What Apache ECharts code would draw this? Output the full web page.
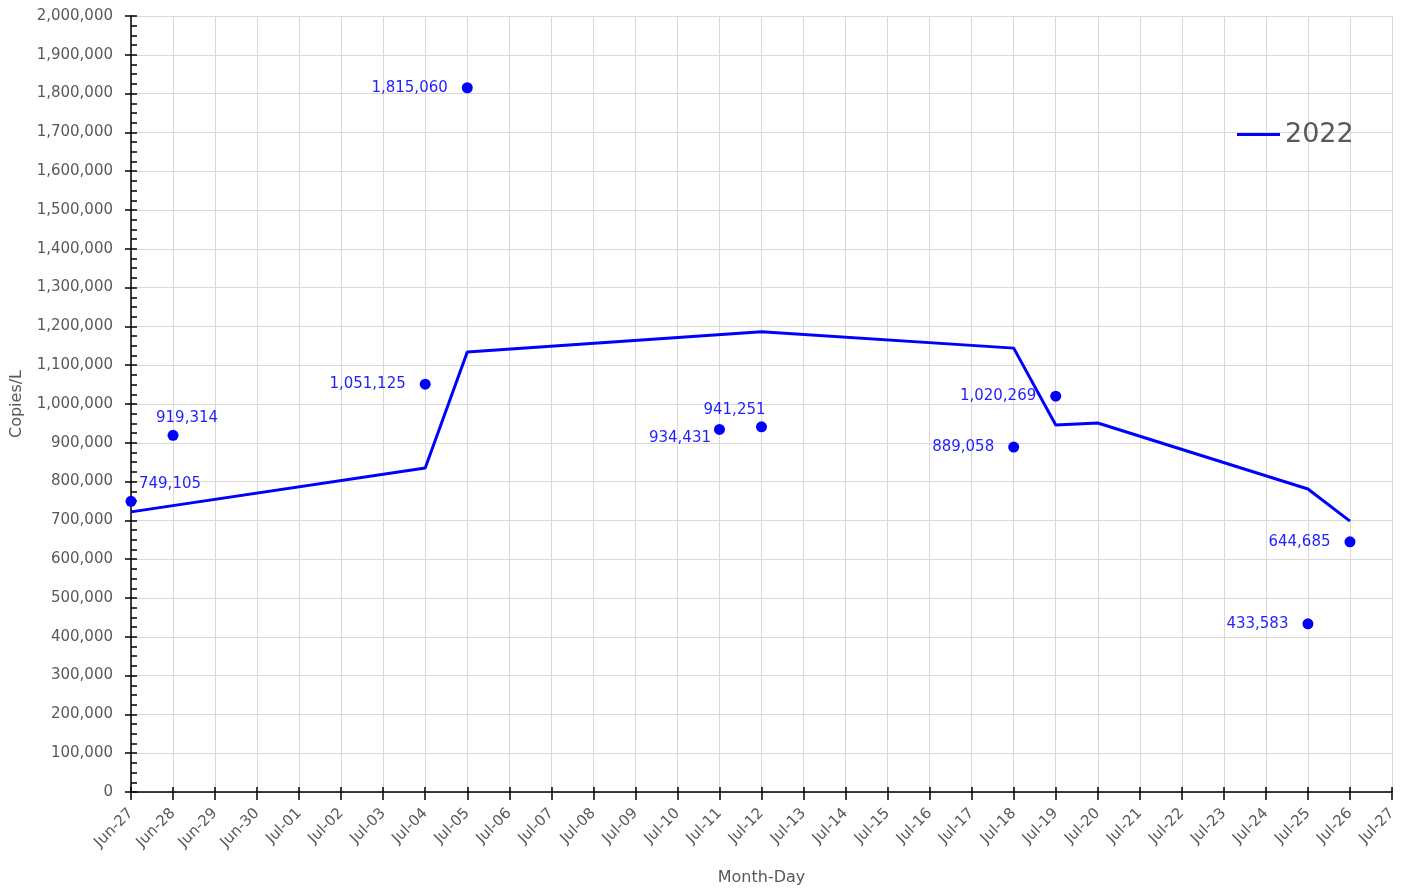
<!DOCTYPE html>
<html>
<head>
<meta charset="utf-8">
<script src="https://cdn.jsdelivr.net/npm/echarts@6/dist/echarts.min.js"></script>
<style>
  html, body { margin: 0; padding: 0; background: #fff; }
  #chart { width: 1411px; height: 892px; }
</style>
</head>
<body>
<div id="chart"></div>
<script>
// x 軸日期（每日一格）
const dayLabels = [
  "Jun-27", "Jun-28", "Jun-29", "Jun-30", "Jul-01", "Jul-02", "Jul-03", "Jul-04",
  "Jul-05", "Jul-06", "Jul-07", "Jul-08", "Jul-09", "Jul-10", "Jul-11", "Jul-12",
  "Jul-13", "Jul-14", "Jul-15", "Jul-16", "Jul-17", "Jul-18", "Jul-19", "Jul-20",
  "Jul-21", "Jul-22", "Jul-23", "Jul-24", "Jul-25", "Jul-26", "Jul-27",
];

// 2022 折線（由圖讀取的估計值）
const lineDates = ["Jun-27", "Jul-04", "Jul-05", "Jul-12", "Jul-18", "Jul-19", "Jul-20", "Jul-25", "Jul-26"];
const lineValues = [722000, 835000, 1134000, 1186000, 1144000, 946000, 951000, 781000, 698000];

// 量測點
const pointDates = ["Jun-27", "Jun-28", "Jul-04", "Jul-05", "Jul-11", "Jul-12", "Jul-18", "Jul-19", "Jul-25", "Jul-26"];
const pointValues = [749105, 919314, 1051125, 1815060, 934431, 941251, 889058, 1020269, 433583, 644685];

// y 軸範圍
const yMin = 0;
const yMax = 2000000;
const yStep = 100000;

const FONT = "DejaVu Sans";
const BLUE = "#0000ff";
const GREY = "#595959";

const fmt = (n) => Number(n).toLocaleString("en-US");

// 每個點標籤的擺放方式（預設放左邊）
const labelPlace = {
  "Jun-27": { position: "top", distance: 4, offset: [39, 0] },
  "Jun-28": { position: "top", distance: 4, offset: [14, 0] },
  "Jul-11": { position: "left", distance: 3, offset: [0, 9] },
  "Jul-12": { position: "top", distance: 4, offset: [-27, 0] },
};

const chart = echarts.init(document.getElementById("chart"));

chart.setOption({
  animation: false,
  textStyle: { fontFamily: FONT },
  grid: { left: 131, right: 19, top: 16, bottom: 100 },
  legend: {
    data: [{ name: "2022", icon: "rect" }],
    left: 1232,
    top: 116,
    itemWidth: 43,
    itemHeight: 3,
    itemGap: 5,
    textStyle: { fontFamily: FONT, fontSize: 27, color: GREY },
  },
  xAxis: [
    {
      type: "category",
      data: dayLabels,
      boundaryGap: false,
      position: "bottom",
      name: "Month-Day",
      nameLocation: "middle",
      nameGap: 78,
      nameTextStyle: { fontFamily: FONT, fontSize: 16, color: GREY },
      axisLine: { lineStyle: { color: "#000", width: 1.5 } },
      axisTick: { inside: true, length: 5, lineStyle: { color: "#000", width: 1.5 } },
      axisLabel: { rotate: 45, margin: 19, fontSize: 15, color: GREY, interval: 0 },
      splitLine: { show: true, lineStyle: { color: "#d9d9d9", width: 1 } },
    },
    {
      // 只畫往外的刻度
      type: "category",
      data: dayLabels,
      boundaryGap: false,
      position: "bottom",
      axisLine: { show: false },
      axisTick: { length: 8, interval: 0, lineStyle: { color: "#000", width: 1.5 } },
      axisLabel: { show: false },
      splitLine: { show: false },
    },
  ],
  yAxis: [
    {
      type: "value",
      min: yMin,
      max: yMax,
      interval: yStep,
      position: "left",
      name: "Copies/L",
      nameLocation: "middle",
      nameGap: 106,
      nameTextStyle: { fontFamily: FONT, fontSize: 16, color: GREY },
      axisLine: { show: true, lineStyle: { color: "#000", width: 1.5 } },
      axisTick: { show: true, inside: true, length: 6, lineStyle: { color: "#000", width: 1.5 } },
      minorTick: { show: true, splitNumber: 4, length: 6, lineStyle: { color: "#000", width: 1.5 } },
      axisLabel: { margin: 18, fontSize: 15, color: GREY, formatter: (v) => fmt(v) },
      splitLine: { show: true, lineStyle: { color: "#d9d9d9", width: 1 } },
    },
    {
      type: "value",
      min: yMin,
      max: yMax,
      interval: yStep,
      position: "left",
      axisLine: { show: false },
      axisTick: { show: true, length: 6, lineStyle: { color: "#000", width: 1.5 } },
      axisLabel: { show: false },
      splitLine: { show: false },
    },
  ],
  series: [
    {
      name: "2022",
      type: "line",
      symbol: "none",
      lineStyle: { color: BLUE, width: 3 },
      itemStyle: { color: BLUE },
      data: lineDates.map((d, i) => [d, lineValues[i]]),
      z: 2,
    },
    {
      name: "Samples",
      type: "scatter",
      symbolSize: 11,
      itemStyle: { color: BLUE, opacity: 1 },
      label: {
        show: true,
        position: "left",
        distance: 14,
        fontFamily: FONT,
        fontSize: 15,
        color: "#1f1fff",
        formatter: (p) => fmt(p.value[1]),
      },
      data: pointDates.map((d, i) => {
        const item = { value: [d, pointValues[i]] };
        if (labelPlace[d]) item.label = labelPlace[d];
        return item;
      }),
      z: 3,
    },
  ],
});
</script>
</body>
</html>
